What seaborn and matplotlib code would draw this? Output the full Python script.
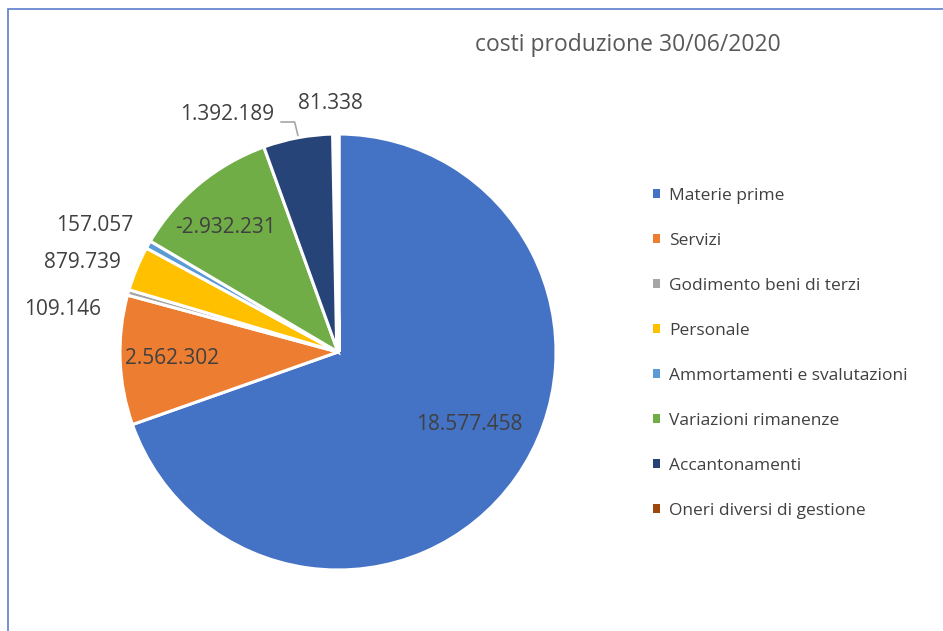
import numpy as np
import matplotlib
matplotlib.use("Agg")
import matplotlib.pyplot as plt
import seaborn as sns
from matplotlib.patches import Patch, Rectangle

# ---- data ----
categories = [
    "Materie prime",
    "Servizi",
    "Godimento beni di terzi",
    "Personale",
    "Ammortamenti e svalutazioni",
    "Variazioni rimanenze",
    "Accantonamenti",
    "Oneri diversi di gestione",
]
values = [18577458, 2562302, 109146, 879739, 157057, -2932231, 1392189, 81338]
title = "costi produzione 30/06/2020"

colors = ["#4472C4", "#ED7D31", "#A5A5A5", "#FFC000",
          "#5B9BD5", "#70AD47", "#264478", "#9E480E"]

# label placement: (radius factor, angle shift in degrees)
label_dist = [0.69, 0.76, 1.28, 1.24, 1.26, 0.77, 1.20, 1.14]
label_shift = [6.3, 0.0, 7.0, 3.3, 2.0, 2.6, 14.5, 1.3]

sns.set_theme(style="white")
plt.rcParams["font.family"] = ["Open Sans", "DejaVu Sans"]

W, H = 943, 631
fig = plt.figure(figsize=(W / 100, H / 100), dpi=100)

cx, cy, r = 338, 352, 218
ax = fig.add_axes([(cx - r) / W, (H - cy - r) / H, 2 * r / W, 2 * r / H])

sizes = np.abs(values)
wedges, _ = ax.pie(
    sizes,
    colors=colors,
    startangle=90,
    counterclock=False,
    radius=1.0,
    wedgeprops=dict(edgecolor="white", linewidth=2.2),
)
# the tiny last slice is swallowed by its white border, as in the original
wedges[7].set_linewidth(4)
ax.set_xlim(-1, 1)
ax.set_ylim(-1, 1)
ax.set_aspect("equal")
ax.axis("off")


def fmt(v):
    s = f"{abs(v):,}".replace(",", ".")
    return ("-" if v < 0 else "") + s


for i, w in enumerate(wedges):
    mid = (w.theta1 + w.theta2) / 2
    ang = np.deg2rad(mid + label_shift[i])
    x = label_dist[i] * np.cos(ang)
    y = label_dist[i] * np.sin(ang)
    ax.text(x, y, fmt(values[i]), ha="center", va="center",
            fontsize=15, color="#404040", clip_on=False)

# leader line for Accantonamenti
w = wedges[6]
mid = np.deg2rad((w.theta1 + w.theta2) / 2)
p0 = (1.01 * np.cos(mid), 1.01 * np.sin(mid))
ax.plot([p0[0], p0[0] - 0.015, -0.262], [p0[1], 1.055, 1.055],
        color="#A6A6A6", lw=1.2, clip_on=False)

# title
fig.text(628 / W, 1 - 45 / H, title, ha="center", va="center",
         fontsize=16.5, color="#595959")

# legend
handles = [Patch(facecolor=c, edgecolor="none") for c in colors]
leg = fig.legend(
    handles, categories,
    loc="upper left",
    bbox_to_anchor=(644 / W, 1 - 179 / H),
    frameon=False,
    fontsize=12.5,
    handlelength=0.45,
    handleheight=0.45,
    handletextpad=0.5,
    labelspacing=1.67,
    borderpad=0,
)
for t in leg.get_texts():
    t.set_color("#404040")

# chart border (top and left edges visible)
fig.add_artist(Rectangle((8 / W, -0.1), 1.2, (H - 9) / H + 0.1,
                         transform=fig.transFigure, fill=False,
                         edgecolor="#5B7FCB", linewidth=1.2))

fig.savefig("out.png", dpi=100)
